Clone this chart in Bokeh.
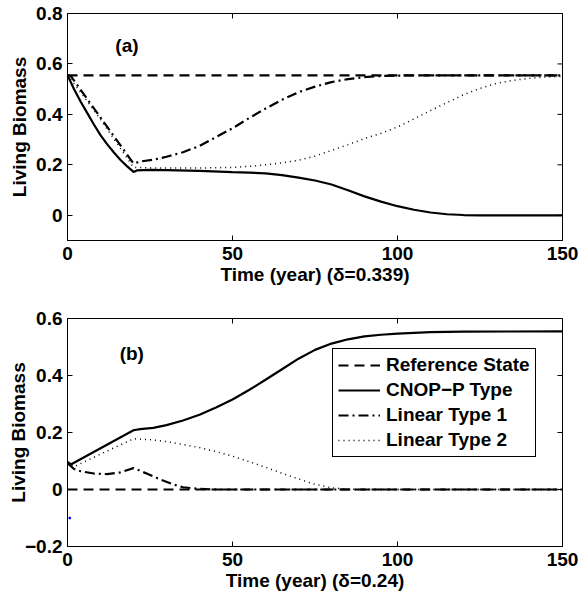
import math
from bokeh.plotting import figure
from bokeh.layouts import column
from bokeh.models import Range1d, FixedTicker, Legend, LegendItem
from bokeh.core.properties import value
from bokeh.embed import file_html
from bokeh.resources import INLINE

FONT = "Liberation Sans"
FS = "19px"

# ---------------- data ----------------
x_ticks = [0, 50, 100, 150]
ya_ticks = [0, 0.2, 0.4, 0.6, 0.8]
yb_ticks = [-0.2, 0, 0.2, 0.4, 0.6]

# Panel (a)
a_ref_t = [0, 150]
a_ref_v = [0.555, 0.555]

a_cnop_t = [0, 2, 4, 6, 8, 10, 12, 14, 16, 18, 20, 21, 25, 30, 40, 50, 55, 60, 65, 70, 75, 80,
            85, 90, 95, 100, 105, 110, 115, 120, 125, 150]
a_cnop_v = [0.555, 0.50, 0.45, 0.405, 0.36, 0.318, 0.282, 0.25, 0.22, 0.195, 0.172, 0.178, 0.18,
            0.179, 0.176, 0.171, 0.169, 0.166, 0.159, 0.149, 0.138, 0.122, 0.099, 0.075, 0.054,
            0.036, 0.022, 0.011, 0.004, 0.001, 0.0, 0.0]

a_lin1_t = [0, 1, 20, 22, 26, 30, 35, 40, 45, 50, 55, 60, 65, 70, 75, 80, 85, 90, 95, 100, 110, 150]
a_lin1_v = [0.555, 0.552, 0.205, 0.213, 0.22, 0.232, 0.25, 0.275, 0.31, 0.345, 0.385, 0.423, 0.458,
            0.488, 0.51, 0.528, 0.54, 0.548, 0.552, 0.554, 0.555, 0.555]

a_lin2_t = [0, 5, 10, 15, 20, 25, 30, 40, 50, 55, 60, 65, 70, 75, 80, 85, 90, 95, 100, 105, 110,
            115, 120, 125, 130, 135, 140, 145, 150]
a_lin2_v = [0.555, 0.47, 0.38, 0.285, 0.19, 0.188, 0.187, 0.187, 0.19, 0.194, 0.2, 0.208, 0.218,
            0.235, 0.257, 0.28, 0.304, 0.325, 0.35, 0.382, 0.415, 0.447, 0.478, 0.503, 0.523,
            0.535, 0.543, 0.548, 0.551]

# Panel (b)
b_ref_t = [0, 150]
b_ref_v = [0.0, 0.0]

b_cnop_t = [0, 1, 20, 22, 26, 30, 35, 40, 45, 50, 55, 60, 65, 70, 75, 80, 85, 90, 95, 100, 110, 120, 150]
b_cnop_v = [0.097, 0.088, 0.208, 0.212, 0.216, 0.226, 0.242, 0.262, 0.288, 0.316, 0.349, 0.385,
            0.422, 0.459, 0.49, 0.512, 0.527, 0.537, 0.543, 0.547, 0.552, 0.554, 0.555]

b_lin1_t = [0, 2, 4, 8, 12, 16, 20, 24, 28, 32, 35, 40, 45, 150]
b_lin1_v = [0.092, 0.072, 0.064, 0.056, 0.054, 0.06, 0.075, 0.056, 0.036, 0.018, 0.008, 0.002, 0.0, 0.0]

b_lin2_t = [0, 2, 10, 20, 25, 30, 35, 40, 45, 50, 55, 60, 65, 70, 75, 80, 85, 90, 150]
b_lin2_v = [0.095, 0.08, 0.124, 0.178, 0.175, 0.168, 0.158, 0.147, 0.133, 0.117, 0.098, 0.078,
            0.057, 0.037, 0.018, 0.006, 0.001, 0.0, 0.0]

b_dot_t = [0.7]
b_dot_v = [-0.1]

series_labels = ["Reference State", "CNOP\u2212P Type", "Linear Type 1", "Linear Type 2"]


def style(p, yticks, yr, ylabel_standoff):
    for ax in (p.xaxis[0], p.yaxis[0]):
        ax.major_tick_in = 5
        ax.major_tick_out = 0
        ax.minor_tick_in = 0
        ax.minor_tick_out = 0
        ax.axis_line_color = "black"
        ax.major_tick_line_color = "black"
        ax.major_label_text_font = FONT
        ax.major_label_text_font_style = "bold"
        ax.major_label_text_font_size = FS
        ax.major_label_text_color = "black"
        ax.axis_label_text_font = FONT
        ax.axis_label_text_font_style = "bold"
        ax.axis_label_text_font_size = FS
        ax.axis_label_text_color = "black"
    p.xaxis[0].ticker = FixedTicker(ticks=x_ticks)
    p.yaxis[0].ticker = FixedTicker(ticks=yticks)
    p.xaxis[0].major_label_standoff = 6
    p.xaxis[0].axis_label_standoff = 1
    p.yaxis[0].major_label_standoff = 5
    p.yaxis[0].axis_label_standoff = ylabel_standoff
    p.yaxis[0].major_label_overrides = {t: ("\u2212" + str(abs(t)) if t < 0 else str(t)) for t in yticks}
    p.xgrid.visible = False
    p.ygrid.visible = False
    p.outline_line_color = "black"
    p.outline_line_alpha = 1
    p.outline_line_width = 1
    # mirrored inward ticks on top and right edges (clipped to the frame, half shows)
    p.scatter(x=x_ticks, y=[yr.end] * len(x_ticks), marker="dash", angle=math.pi / 2, size=10,
              line_color="black", line_width=1)
    p.scatter(x=[150] * len(yticks), y=yticks, marker="dash", size=10,
              line_color="black", line_width=1)


def make_fig(yr, top, bottom, frame_h):
    p = figure(frame_width=495, frame_height=frame_h, x_range=Range1d(0, 150), y_range=yr,
               output_backend="svg", toolbar_location=None,
               min_border_left=67, min_border_right=18, min_border_top=top, min_border_bottom=bottom,
               background_fill_color="white", border_fill_color="white")
    return p


# ---------------- panel (a) ----------------
yra = Range1d(-0.1, 0.8)
pa = make_fig(yra, 13, 50, 227)
pa.line(a_ref_t, a_ref_v, line_color="black", line_width=2.2, line_dash="10 6")
pa.line(a_lin2_t, a_lin2_v, line_color="black", line_width=1.5, line_dash="1 4")
pa.line(a_lin1_t, a_lin1_v, line_color="black", line_width=2.2, line_dash="10 4 2 4")
pa.line(a_cnop_t, a_cnop_v, line_color="black", line_width=2.2)
pa.text(x=[14.5], y=[0.673], text=["(a)"], text_font=value(FONT), text_font_style="bold",
        text_font_size=FS, text_baseline="middle", text_align="left", text_color="black")
pa.xaxis[0].axis_label = "Time (year) (\u03b4=0.339)"
pa.yaxis[0].axis_label = "Living Biomass"
style(pa, ya_ticks, yra, 3)

# ---------------- panel (b) ----------------
yrb = Range1d(-0.2, 0.6)
pb = make_fig(yrb, 28, 51, 228)
r_ref = pb.line(b_ref_t, b_ref_v, line_color="black", line_width=2.2, line_dash="10 6")
r_l2 = pb.line(b_lin2_t, b_lin2_v, line_color="black", line_width=1.5, line_dash="1 4")
r_l1 = pb.line(b_lin1_t, b_lin1_v, line_color="black", line_width=2.2, line_dash="10 4 2 4")
r_cn = pb.line(b_cnop_t, b_cnop_v, line_color="black", line_width=2.2)
pb.scatter(b_dot_t, b_dot_v, size=2, color="blue")
pb.text(x=[15.8], y=[0.477], text=["(b)"], text_font=value(FONT), text_font_style="bold",
        text_font_size=FS, text_baseline="middle", text_align="left", text_color="black")
pb.xaxis[0].axis_label = "Time (year) (\u03b4=0.24)"
pb.yaxis[0].axis_label = "Living Biomass"
style(pb, yb_ticks, yrb, -7)

legend = Legend(items=[LegendItem(label=series_labels[0], renderers=[r_ref]),
                       LegendItem(label=series_labels[1], renderers=[r_cn]),
                       LegendItem(label=series_labels[2], renderers=[r_l1]),
                       LegendItem(label=series_labels[3], renderers=[r_l2])],
                location=(265, 89), margin=0, padding=5, spacing=3,
                glyph_width=42, glyph_height=20, label_height=20, label_standoff=6,
                label_text_font=FONT, label_text_font_style="bold", label_text_font_size=FS,
                label_text_color="black",
                border_line_color="black", border_line_width=1, border_line_alpha=1,
                background_fill_color="white", background_fill_alpha=1)
pb.add_layout(legend, "center")

layout = column(pa, pb, spacing=0)
open("out.html", "w").write(file_html(layout, INLINE))
